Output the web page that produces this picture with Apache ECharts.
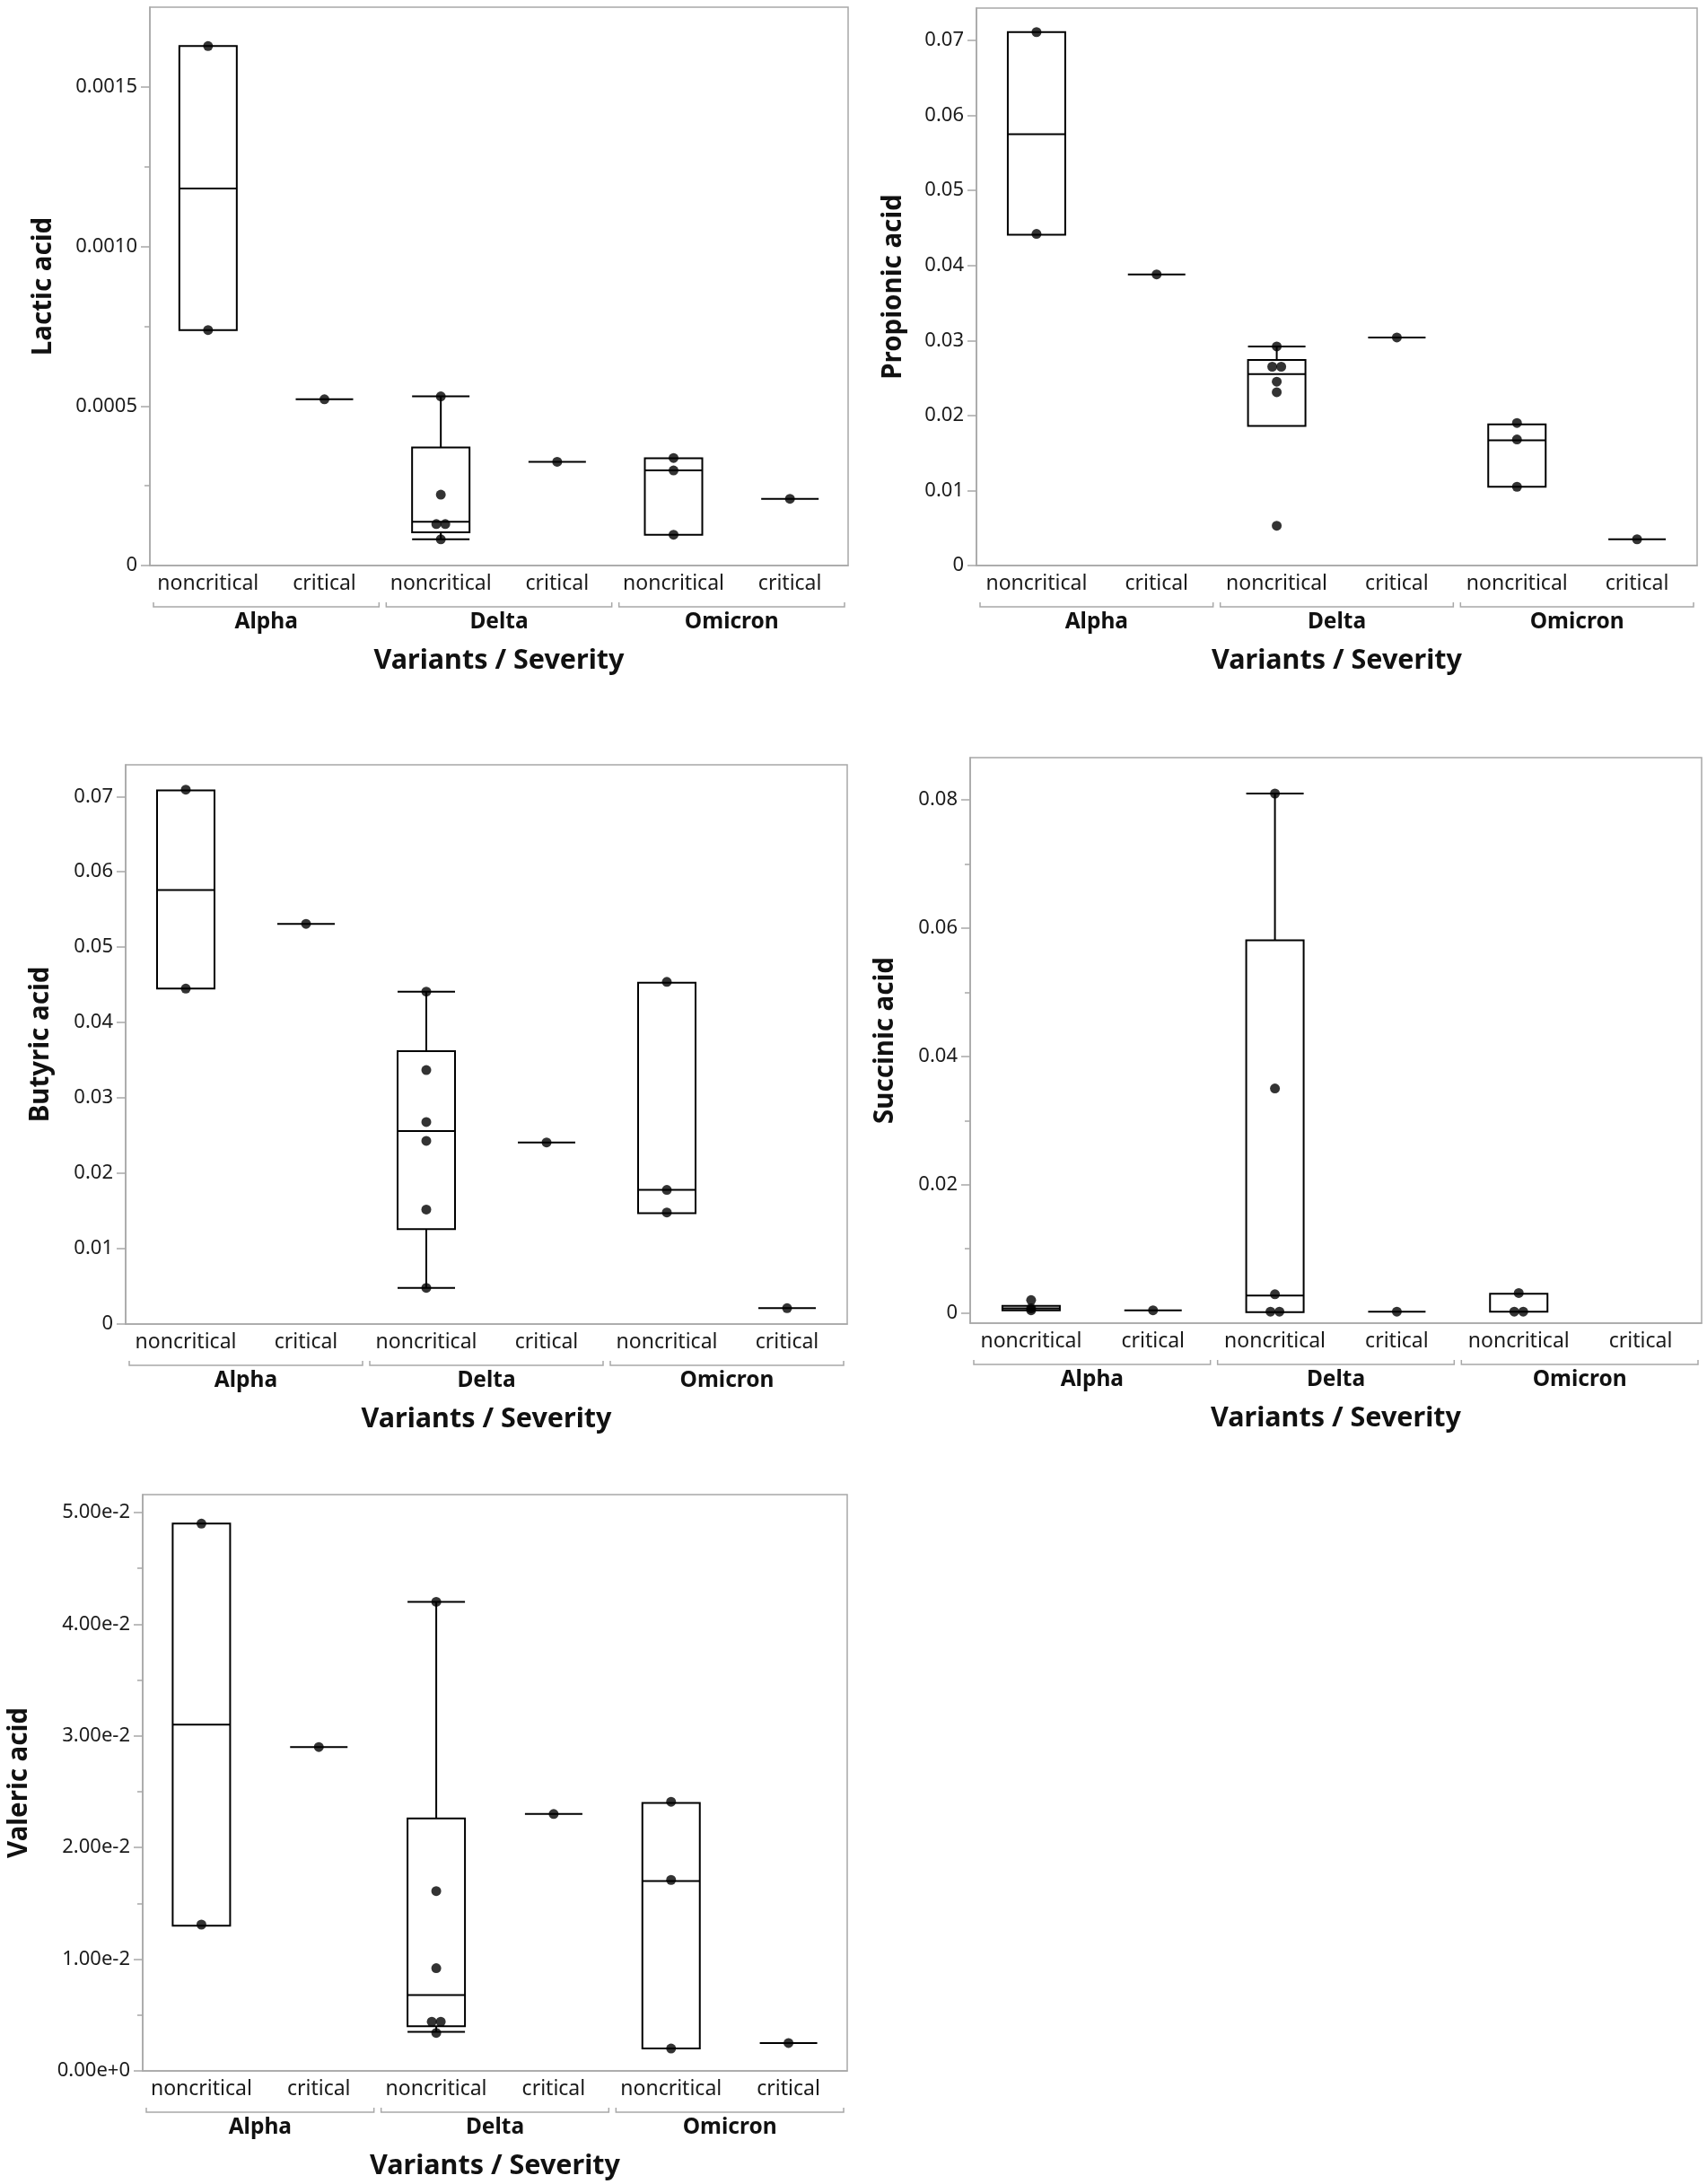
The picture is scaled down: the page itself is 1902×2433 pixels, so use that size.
<!DOCTYPE html>
<html>
<head>
<meta charset="utf-8">
<script src="https://cdn.jsdelivr.net/npm/echarts@6/dist/echarts.min.js"></script>
<style>
  html, body { margin: 0; background: #fff; }
  #chart { width: 1902px; height: 2433px; }
</style>
</head>
<body>
<div id="chart"></div>
<script>
// categories
const severities = ['noncritical', 'critical'];
const variants = ['Alpha', 'Delta', 'Omicron'];

// points per cell: Alpha-nc, Alpha-c, Delta-nc, Delta-c, Omicron-nc, Omicron-c
// boxes: [low whisker, Q1, median, Q3, high whisker]; null -> single value (or empty)
const lacticPoints = [
  [0.001628, 0.000738], [0.000521],
  [0.00053, 0.000222, 0.000130, 0.000130, 0.000082], [0.000325],
  [0.000337, 0.000298, 0.0000965], [0.000209]
];
const lacticBoxes = [
  [0.000738, 0.000738, 0.001182, 0.001628, 0.001628], null,
  [0.000082, 0.000104, 0.000137, 0.00037, 0.00053], null,
  [0.0000965, 0.0000965, 0.000298, 0.000336, 0.000336], null
];
const lacticTicks = [0, 0.0005, 0.001, 0.0015];
const lacticMinor = [0.00025, 0.00075, 0.00125];

const propionicPoints = [
  [0.0711, 0.0442], [0.0388],
  [0.0292, 0.0265, 0.0265, 0.0245, 0.0231, 0.0053], [0.0304],
  [0.0190, 0.0168, 0.0105], [0.0035]
];
const propionicBoxes = [
  [0.0441, 0.0441, 0.0575, 0.0711, 0.0711], null,
  [0.0186, 0.0186, 0.0255, 0.0274, 0.0292], null,
  [0.0105, 0.0105, 0.0167, 0.0188, 0.0188], null
];
const propionicTicks = [0, 0.01, 0.02, 0.03, 0.04, 0.05, 0.06, 0.07];
const propionicMinor = [];

const butyricPoints = [
  [0.0709, 0.0445], [0.0531],
  [0.0441, 0.0337, 0.0268, 0.0243, 0.0152, 0.0048], [0.0241],
  [0.0454, 0.0178, 0.0148], [0.0021]
];
const butyricBoxes = [
  [0.0445, 0.0445, 0.0576, 0.0708, 0.0708], null,
  [0.0048, 0.0126, 0.0256, 0.0362, 0.0441], null,
  [0.0147, 0.0147, 0.0178, 0.0453, 0.0453], null
];
const butyricTicks = [0, 0.01, 0.02, 0.03, 0.04, 0.05, 0.06, 0.07];
const butyricMinor = [];

const succinicPoints = [
  [0.0020, 0.0007, 0.0004], [0.0004],
  [0.0810, 0.0350, 0.0029, 0.0002, 0.0002], [0.0002],
  [0.0031, 0.0002, 0.0002], []
];
const succinicBoxes = [
  [0.0004, 0.0004, 0.0007, 0.0011, 0.0011], null,
  [0.0001, 0.0001, 0.0027, 0.0581, 0.0810], null,
  [0.0002, 0.0002, 0.0002, 0.0030, 0.0030], null
];
const succinicTicks = [0, 0.02, 0.04, 0.06, 0.08];
const succinicMinor = [0.01, 0.03, 0.05, 0.07];

const valericPoints = [
  [0.0490, 0.0131], [0.0290],
  [0.0420, 0.0161, 0.0092, 0.0044, 0.0044, 0.0034], [0.0230],
  [0.0241, 0.0171, 0.0020], [0.0025]
];
const valericBoxes = [
  [0.0130, 0.0130, 0.0310, 0.0490, 0.0490], null,
  [0.0035, 0.0040, 0.0068, 0.0226, 0.0420], null,
  [0.0020, 0.0020, 0.0170, 0.0240, 0.0240], null
];
const valericTicks = [0, 0.01, 0.02, 0.03, 0.04, 0.05];
const valericMinor = [0.005, 0.015, 0.025, 0.035, 0.045];

const FONT = 'Noto Sans';
const AXIS_GREY = '#a8a8a8';

const fmtFixed = d => v => (v === 0 ? '0' : v.toFixed(d));
const fmtExp = v => v.toExponential(2);

const panels = [
  { name: 'Lactic acid', points: lacticPoints, boxes: lacticBoxes, ticks: lacticTicks, minor: lacticMinor,
    min: 0, max: 0.00175, fmt: fmtFixed(4),
    grid: { left: 167, top: 8, width: 778, height: 622 }, nameGap: 103 },
  { name: 'Propionic acid', points: propionicPoints, boxes: propionicBoxes, ticks: propionicTicks, minor: propionicMinor,
    min: 0, max: 0.0743, fmt: fmtFixed(2),
    grid: { left: 1088, top: 9, width: 803, height: 621 }, nameGap: 77 },
  { name: 'Butyric acid', points: butyricPoints, boxes: butyricBoxes, ticks: butyricTicks, minor: butyricMinor,
    min: 0, max: 0.0742, fmt: fmtFixed(2),
    grid: { left: 140, top: 852, width: 804, height: 623 }, nameGap: 79 },
  { name: 'Succinic acid', points: succinicPoints, boxes: succinicBoxes, ticks: succinicTicks, minor: succinicMinor,
    min: -0.0016, max: 0.0866, fmt: fmtFixed(2),
    grid: { left: 1081, top: 844, width: 815, height: 630 }, nameGap: 79 },
  { name: 'Valeric acid', points: valericPoints, boxes: valericBoxes, ticks: valericTicks, minor: valericMinor,
    min: 0, max: 0.0516, fmt: fmtExp,
    grid: { left: 159, top: 1665, width: 785, height: 642 }, nameGap: 122 }
];

// the six x cells, labelled by severity
const cellLabels = [];
variants.forEach(() => severities.forEach(s => cellLabels.push(s)));

// side-by-side offset for repeated values inside one cell
function pointData(points) {
  const out = [];
  points.forEach((vals, c) => {
    const counts = {};
    vals.forEach(v => { counts[v] = (counts[v] || 0) + 1; });
    const seen = {};
    vals.forEach(v => {
      const k = counts[v];
      const j = seen[v] = (seen[v] === undefined ? 0 : seen[v] + 1);
      const dx = (j - (k - 1) / 2) * 10;
      out.push({ value: [c, v], symbolOffset: [dx, 0] });
    });
  });
  return out;
}

function boxData(p) {
  return p.boxes.map((b, c) => {
    if (b) return b;
    const v = p.points[c];
    return v.length ? [v[0], v[0], v[0], v[0], v[0]] : '-';
  });
}

const grid = [], xAxis = [], yAxis = [], series = [];

panels.forEach((p, i) => {
  grid.push(Object.assign({ show: true, borderColor: AXIS_GREY, borderWidth: 1.5, containLabel: false }, p.grid));

  xAxis.push({
    type: 'category', gridIndex: i, data: cellLabels,
    axisLine: { onZero: false, lineStyle: { color: AXIS_GREY, width: 1.5 } },
    axisTick: { show: false },
    axisLabel: { interval: 0, margin: 9, fontSize: 23, color: '#1a1a1a', fontFamily: FONT },
    name: 'Variants / Severity', nameLocation: 'middle', nameGap: 91,
    nameTextStyle: { fontSize: 30.5, fontWeight: 'bold', color: '#111', fontFamily: FONT }
  });
  xAxis.push({
    type: 'category', gridIndex: i, data: variants, position: 'bottom', offset: 43,
    axisLine: { show: false }, axisTick: { show: false },
    axisLabel: { interval: 0, margin: 8, fontSize: 24.5, fontWeight: 'bold', color: '#111', fontFamily: FONT }
  });

  yAxis.push({
    type: 'value', gridIndex: i, min: p.min, max: p.max, position: 'left',
    splitLine: { show: false },
    axisLine: { show: true, lineStyle: { color: AXIS_GREY, width: 1.5 } },
    axisTick: { show: true, length: 10, customValues: p.ticks, lineStyle: { color: AXIS_GREY, width: 1.5 } },
    axisLabel: { customValues: p.ticks, formatter: p.fmt, margin: 14, fontSize: 22, color: '#1a1a1a', fontFamily: FONT },
    name: p.name, nameLocation: 'middle', nameGap: p.nameGap,
    nameTextStyle: { fontSize: 29.5, fontWeight: 'bold', color: '#111', fontFamily: FONT }
  });
  yAxis.push({
    type: 'value', gridIndex: i, min: p.min, max: p.max, position: 'left', offset: 0,
    splitLine: { show: false },
    axisLine: { show: false },
    axisTick: { show: p.minor.length > 0, length: 6, customValues: p.minor, lineStyle: { color: AXIS_GREY, width: 1.5 } },
    axisLabel: { show: false }
  });

  series.push({
    type: 'boxplot', xAxisIndex: 2 * i, yAxisIndex: 2 * i,
    data: boxData(p), boxWidth: [64, 64],
    itemStyle: { color: 'rgba(0,0,0,0)', borderColor: '#000', borderWidth: 2 },
    emphasis: { disabled: true }, silent: true, z: 2
  });
  series.push({
    type: 'scatter', xAxisIndex: 2 * i, yAxisIndex: 2 * i,
    data: pointData(p.points), symbol: 'circle', symbolSize: 11,
    itemStyle: { color: '#000' }, silent: true, z: 3
  });
  // group brackets under the severity labels
  series.push({
    type: 'custom', xAxisIndex: 2 * i + 1, yAxisIndex: 2 * i, clip: false, silent: true,
    data: variants.map((v, g) => [g, p.min]),
    encode: { x: 0, y: 1 },
    renderItem: (params, api) => {
      const c = api.coord([api.value(0), p.min]);
      const bw = api.size([1, 0])[0];
      const x0 = c[0] - bw / 2 + 4, x1 = c[0] + bw / 2 - 4, y = c[1] + 46;
      return {
        type: 'polyline',
        shape: { points: [[x0, y - 5], [x0, y], [x1, y], [x1, y - 5]] },
        style: { stroke: AXIS_GREY, lineWidth: 1.5, fill: null }
      };
    }
  });
});

const chart = echarts.init(document.getElementById('chart'), null, { renderer: 'canvas' });
chart.setOption({
  backgroundColor: '#fff',
  animation: false,
  grid, xAxis, yAxis, series
});
</script>
</body>
</html>
